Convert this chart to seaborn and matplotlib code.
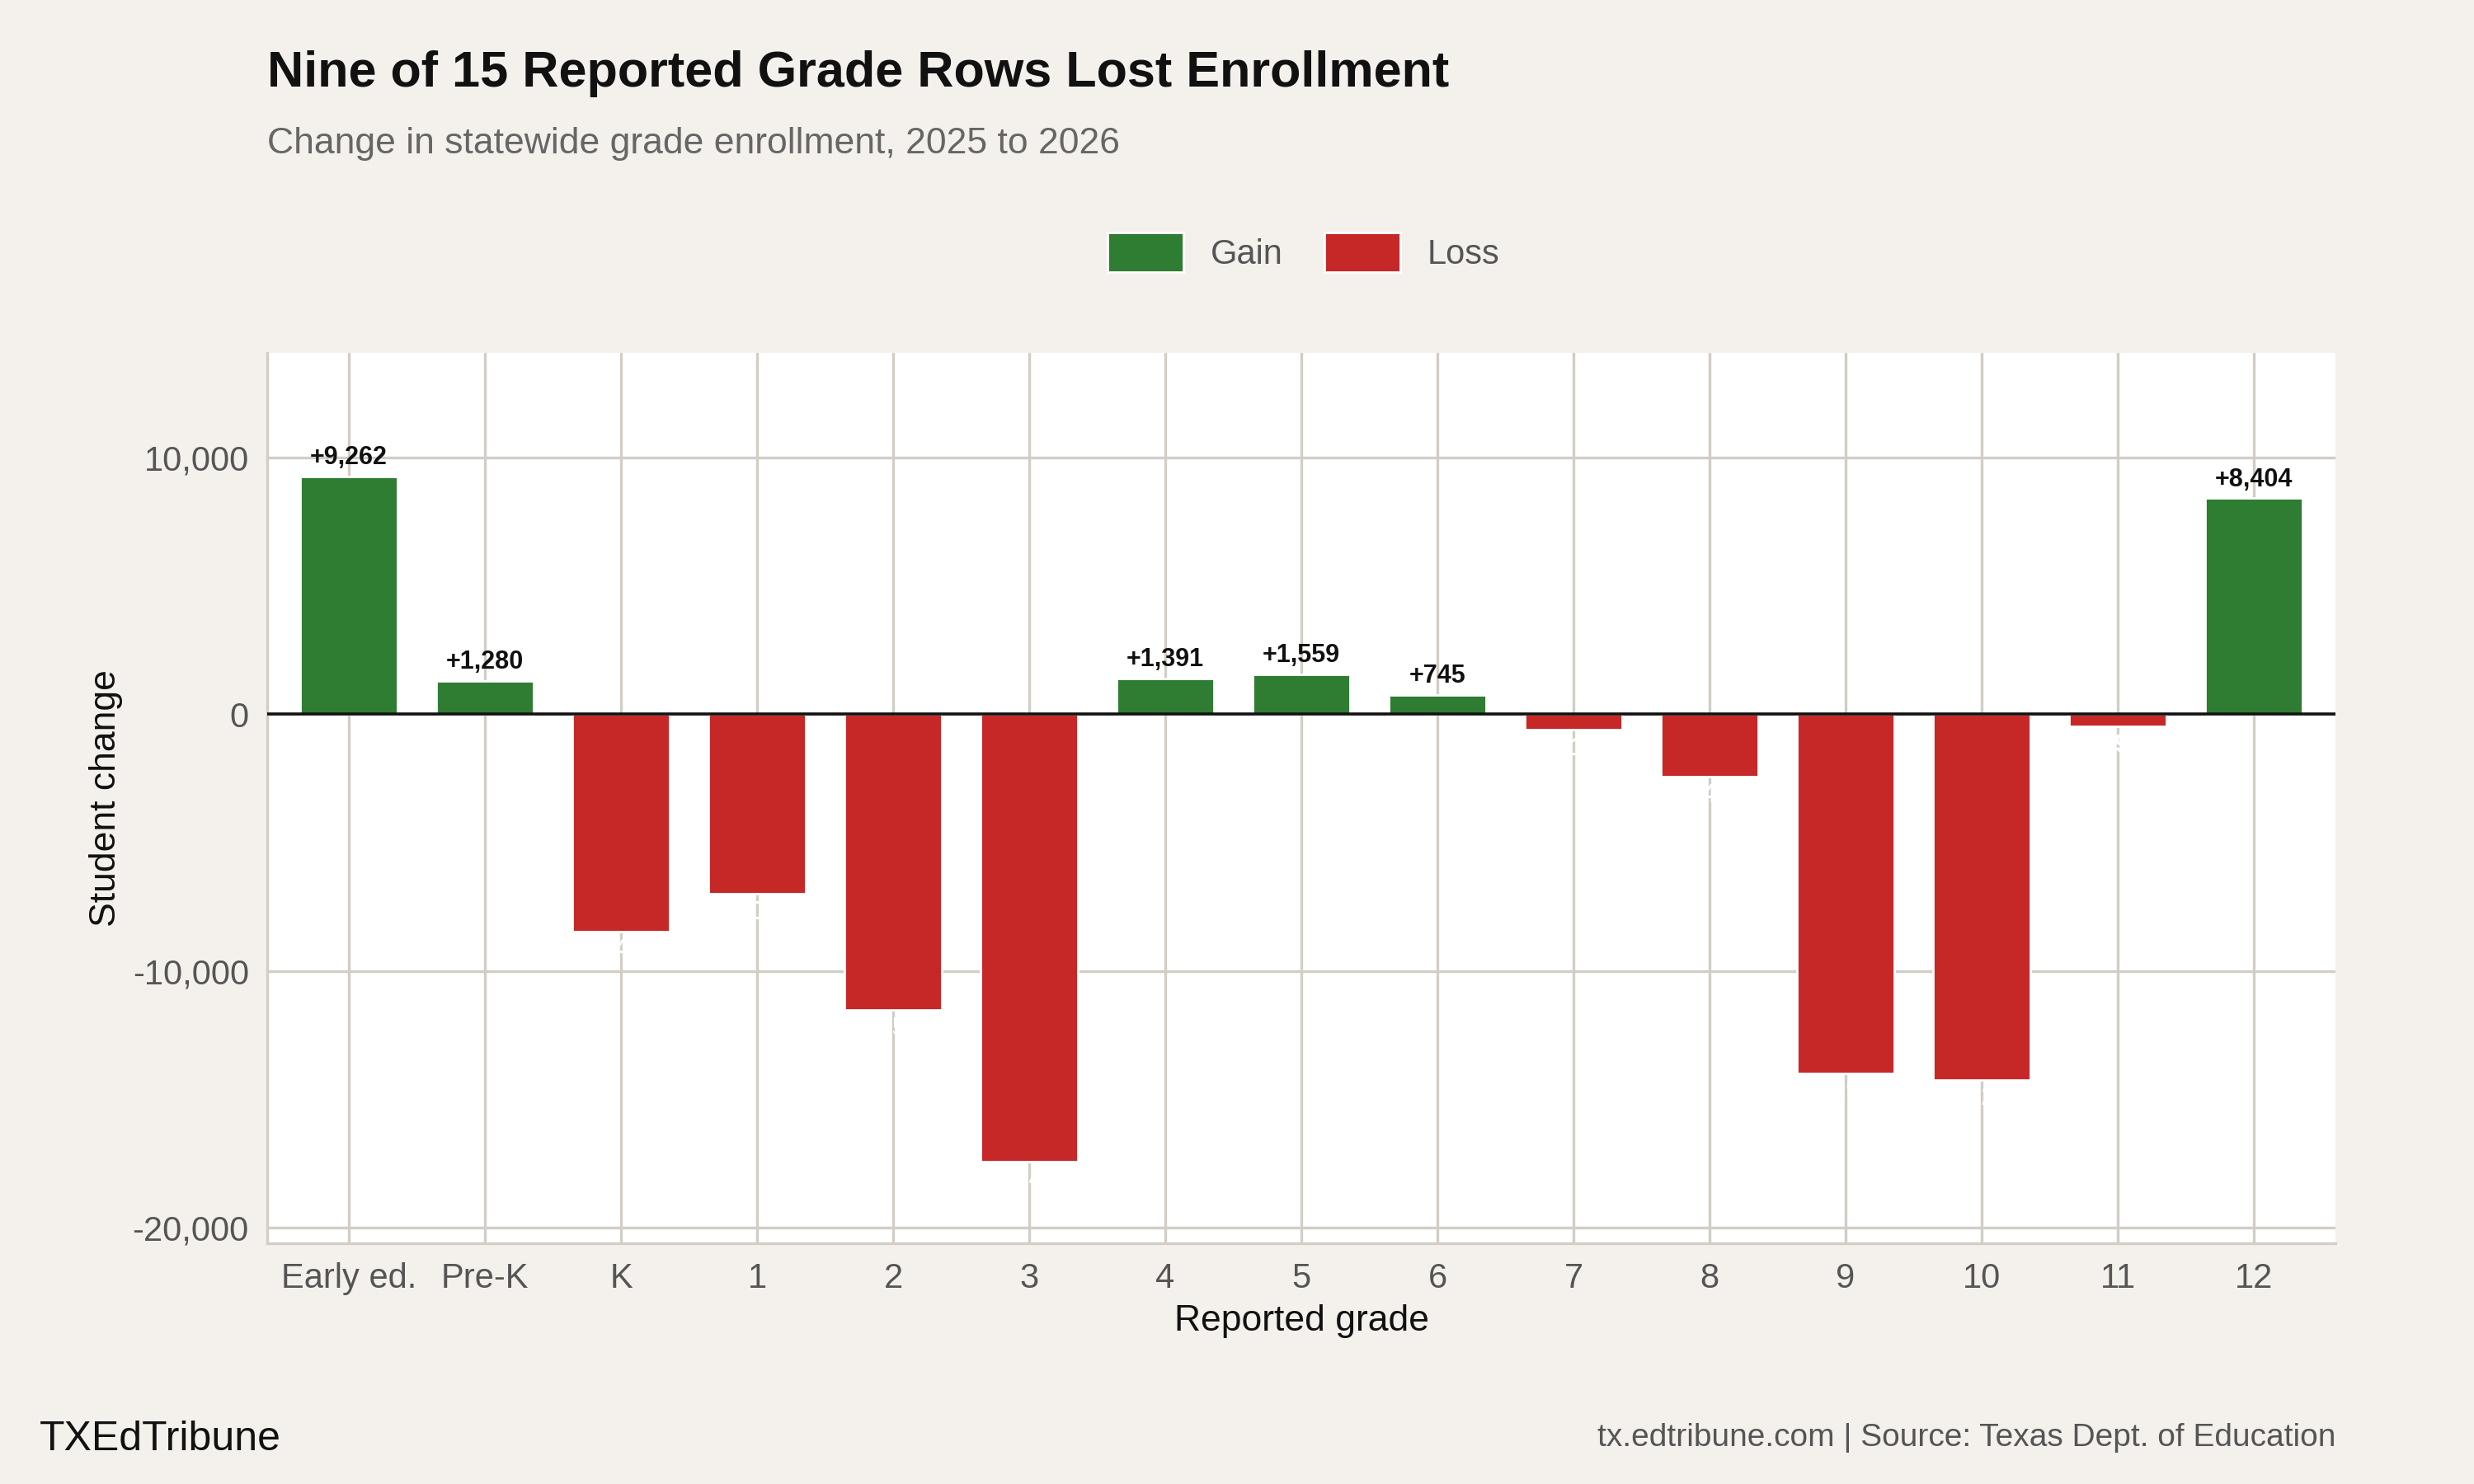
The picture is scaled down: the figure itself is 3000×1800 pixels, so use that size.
import pandas as pd
import matplotlib.pyplot as plt
import seaborn as sns

grades = ["Early ed.", "Pre-K", "K", "1", "2", "3", "4", "5", "6", "7", "8", "9", "10", "11", "12"]
changes = [9262, 1280, -8470, -7000, -11530, -17420, 1391, 1559, 745, -610, -2450, -13990, -14230, -490, 8404]

df = pd.DataFrame({"grade": grades, "change": changes})
df["dir"] = ["Gain" if v > 0 else "Loss" for v in df["change"]]

bg = "#F4F1EC"
grid = "#D2CDC5"
colors = {"Gain": "#2E7D32", "Loss": "#C62828"}

sns.set_theme(style="whitegrid")
plt.rcParams["font.family"] = ["Liberation Sans", "DejaVu Sans"]

fig = plt.figure(figsize=(15, 9), dpi=200, facecolor=bg)
ax = fig.add_axes([0.108, 0.162, 0.836, 0.6])
ax.set_facecolor("white")

sns.barplot(data=df, x="grade", y="change", hue="dir", palette=colors,
            hue_order=["Gain", "Loss"], dodge=False, width=0.72, ax=ax,
            saturation=1, legend=True)

ax.axhline(0, color="#111111", lw=1.3, zorder=3)
ax.set_xlim(-0.6, 14.6)
ax.set_ylim(-20613, 14050)
ax.set_yticks([-20000, -10000, 0, 10000])
ax.set_yticklabels(["-20,000", "-10,000", "0", "10,000"])
ax.grid(True, color=grid, lw=1.2)
ax.set_axisbelow(True)
for s in ["top", "right"]:
    ax.spines[s].set_visible(False)
for s in ["left", "bottom"]:
    ax.spines[s].set_color(grid)
    ax.spines[s].set_linewidth(1.2)
ax.tick_params(axis="both", colors="#555555", labelsize=15, length=0, pad=8)
ax.set_xlabel("Reported grade", fontsize=16, color="#111111")
ax.set_ylabel("Student change", fontsize=16, color="#111111")

for i, v in enumerate(changes):
    if v > 0:
        ax.text(i, v + 250, f"+{v:,}", ha="center", va="bottom", fontsize=11,
                fontweight="bold", color="#111111")
    else:
        ax.text(i, v - 250, f"{v:,}", ha="center", va="top", fontsize=11,
                fontweight="bold", color="white")

h, l = ax.get_legend_handles_labels()
ax.legend_.remove()
fig.legend(h, l, loc="center", bbox_to_anchor=(0.527, 0.83), ncol=2, frameon=False,
           fontsize=15, labelcolor="#555555", handlelength=2.2, handleheight=1.4,
           columnspacing=1.2)

fig.text(0.108, 0.95, "Nine of 15 Reported Grade Rows Lost Enrollment", fontsize=22,
         fontweight="bold", color="#111111", va="center")
fig.text(0.108, 0.903, "Change in statewide grade enrollment, 2025 to 2026", fontsize=16,
         color="#666666", va="center")
fig.text(0.016, 0.03, "TXEdTribune", fontsize=18, color="#111111", va="center")
fig.text(0.944, 0.031, "tx.edtribune.com | Source: Texas Dept. of Education", fontsize=14,
         color="#555555", va="center", ha="right")

fig.savefig("out.png", dpi=200, facecolor=bg)
